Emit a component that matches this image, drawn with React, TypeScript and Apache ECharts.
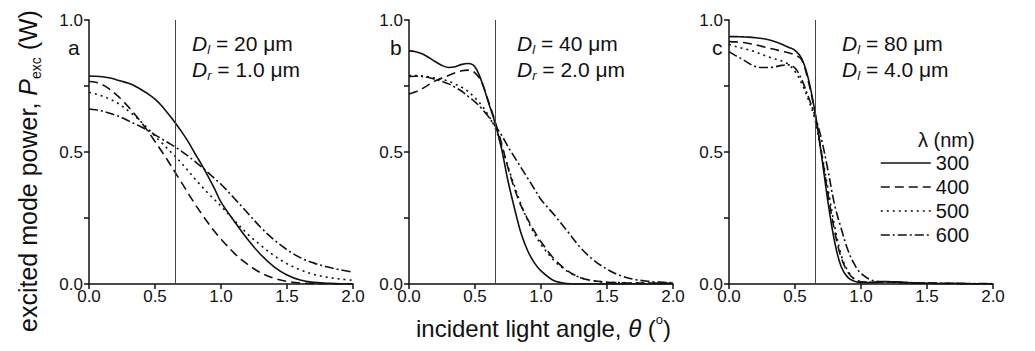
import React, { useEffect, useRef } from "react";
import * as echarts from "echarts";

// incident light angle (deg)
const angles = [
  0, 0.05, 0.1, 0.15, 0.2, 0.25, 0.3, 0.35, 0.4, 0.45, 0.5, 0.55, 0.6, 0.65, 0.7, 0.75, 0.8, 0.85, 0.9, 0.95, 1.0,
  1.1, 1.2, 1.3, 1.4, 1.5, 1.6, 1.7, 1.8, 1.9, 2.0,
];

// panel a: D_l = 20 um, D_r = 1.0 um
const a300 = [0.788, 0.787, 0.785, 0.781, 0.775, 0.768, 0.76, 0.749, 0.735, 0.719, 0.7, 0.675, 0.645, 0.613, 0.578, 0.54, 0.497, 0.455, 0.41, 0.362, 0.31, 0.238, 0.17, 0.112, 0.066, 0.034, 0.015, 0.006, 0.003, 0.001, 0.001];
const a400 = [0.767, 0.764, 0.755, 0.74, 0.72, 0.697, 0.67, 0.641, 0.61, 0.576, 0.54, 0.503, 0.465, 0.425, 0.385, 0.345, 0.305, 0.268, 0.233, 0.2, 0.17, 0.117, 0.075, 0.043, 0.022, 0.01, 0.004, 0.002, 0.001, 0, 0];
const a500 = [0.726, 0.72, 0.712, 0.702, 0.69, 0.674, 0.655, 0.635, 0.612, 0.587, 0.56, 0.535, 0.51, 0.485, 0.458, 0.43, 0.4, 0.372, 0.345, 0.32, 0.295, 0.242, 0.19, 0.147, 0.108, 0.077, 0.054, 0.037, 0.026, 0.019, 0.014];
const a600 = [0.663, 0.66, 0.655, 0.648, 0.64, 0.63, 0.618, 0.606, 0.594, 0.58, 0.565, 0.55, 0.535, 0.52, 0.503, 0.485, 0.465, 0.445, 0.423, 0.4, 0.378, 0.325, 0.27, 0.215, 0.168, 0.13, 0.1, 0.08, 0.065, 0.054, 0.045];

// panel b: D_l = 40 um, D_r = 2.0 um
const b300 = [0.883, 0.88, 0.872, 0.858, 0.842, 0.828, 0.82, 0.823, 0.832, 0.835, 0.822, 0.768, 0.69, 0.613, 0.515, 0.39, 0.285, 0.19, 0.125, 0.08, 0.05, 0.012, 0.002, 0, 0, 0, 0, 0, 0, 0, 0];
const b400 = [0.72, 0.728, 0.74, 0.755, 0.77, 0.78, 0.79, 0.8, 0.808, 0.81, 0.8, 0.765, 0.695, 0.62, 0.535, 0.44, 0.36, 0.295, 0.245, 0.2, 0.16, 0.095, 0.05, 0.024, 0.012, 0.007, 0.005, 0.004, 0.004, 0.003, 0.003];
const b500 = [0.79, 0.79, 0.788, 0.785, 0.78, 0.775, 0.768, 0.757, 0.745, 0.728, 0.705, 0.677, 0.64, 0.595, 0.525, 0.445, 0.37, 0.3, 0.24, 0.19, 0.15, 0.088, 0.048, 0.024, 0.012, 0.007, 0.005, 0.004, 0.004, 0.003, 0.003];
const b600 = [0.786, 0.787, 0.786, 0.782, 0.775, 0.768, 0.758, 0.745, 0.73, 0.71, 0.69, 0.665, 0.635, 0.6, 0.565, 0.52, 0.48, 0.44, 0.4, 0.36, 0.32, 0.262, 0.2, 0.137, 0.09, 0.056, 0.032, 0.018, 0.011, 0.007, 0.005];

// panel c: D_l = 80 um, D_l = 4.0 um
const c300 = [0.937, 0.937, 0.936, 0.935, 0.933, 0.93, 0.925, 0.918, 0.908, 0.897, 0.885, 0.855, 0.78, 0.655, 0.49, 0.31, 0.16, 0.065, 0.025, 0.01, 0.005, 0.006, 0.009, 0.006, 0.004, 0.003, 0.002, 0.002, 0.001, 0.001, 0.001];
const c400 = [0.918, 0.917, 0.915, 0.911, 0.906, 0.9, 0.894, 0.888, 0.882, 0.876, 0.868, 0.85, 0.77, 0.653, 0.5, 0.34, 0.2, 0.1, 0.045, 0.018, 0.008, 0.006, 0.008, 0.006, 0.004, 0.003, 0.002, 0.002, 0.001, 0.001, 0.001];
const c500 = [0.908, 0.9, 0.893, 0.887, 0.879, 0.869, 0.86, 0.852, 0.845, 0.832, 0.805, 0.76, 0.7, 0.625, 0.5, 0.36, 0.22, 0.11, 0.05, 0.02, 0.009, 0.006, 0.007, 0.005, 0.004, 0.003, 0.002, 0.002, 0.001, 0.001, 0.001];
const c600 = [0.88, 0.865, 0.852, 0.836, 0.824, 0.82, 0.82, 0.823, 0.828, 0.83, 0.818, 0.775, 0.71, 0.64, 0.55, 0.43, 0.3, 0.21, 0.13, 0.075, 0.04, 0.012, 0.009, 0.007, 0.005, 0.004, 0.003, 0.003, 0.002, 0.002, 0.001];

const wavelengths = ["300", "400", "500", "600"];
const cutoffAngle = 0.65;
const xTicks = [0, 0.5, 1.0, 1.5, 2.0];
const yLabelled = [0, 0.5, 1.0];

const panelValues = [
  [a300, a400, a500, a600],
  [b300, b400, b500, b600],
  [c300, c400, c500, c600],
];
const panelLetters = ["a", "b", "c"];
const panelDiam = [
  ["D", "l", " = 20 μm", "D", "r", " = 1.0 μm"],
  ["D", "l", " = 40 μm", "D", "r", " = 2.0 μm"],
  ["D", "l", " = 80 μm", "D", "l", " = 4.0 μm"],
];

const FONT = "'Liberation Sans', Arial, Helvetica, sans-serif";
const INK = "#111";
const gridLefts = [89, 409, 729];
const dashTypes: any[] = ["solid", [9, 5], [2, 4], [9, 3, 2, 3]];

export default function App() {
  const ref = useRef<HTMLDivElement>(null);
  useEffect(() => {
    if (!ref.current) return;
    const chart = echarts.init(ref.current, null, { renderer: "svg" });

    const grids = gridLefts.map((l) => ({ left: l, top: 20, width: 264, height: 264 }));
    const xAxes = gridLefts.map((_, i) => ({
      type: "value",
      gridIndex: i,
      min: xTicks[0],
      max: xTicks[xTicks.length - 1],
      interval: 0.5,
      axisLine: { show: true, onZero: false, lineStyle: { color: INK, width: 1.5 } },
      axisTick: { show: true, inside: false, length: 5, lineStyle: { color: INK, width: 1.5 } },
      splitLine: { show: false },
      axisLabel: {
        show: true,
        showMinLabel: true,
        showMaxLabel: true,
        margin: 4,
        fontSize: 17,
        color: INK,
        fontFamily: FONT,
        formatter: (v: number) => v.toFixed(1),
      },
    }));
    const yAxes = gridLefts.map((_, i) => ({
      type: "value",
      gridIndex: i,
      min: 0,
      max: 1,
      interval: 0.25,
      axisLine: { show: true, onZero: false, lineStyle: { color: INK, width: 1.5 } },
      axisTick: { show: true, inside: false, length: 5, lineStyle: { color: INK, width: 1.5 } },
      splitLine: { show: false },
      axisLabel: {
        show: true,
        showMinLabel: true,
        showMaxLabel: true,
        margin: 6,
        fontSize: 17,
        color: INK,
        fontFamily: FONT,
        formatter: (v: number) =>
          yLabelled.some((t) => Math.abs(t - v) < 1e-6) ? v.toFixed(1) : "",
      },
    }));

    const series: any[] = [];
    panelValues.forEach((vals, i) => {
      vals.forEach((ys, j) => {
        const s: any = {
          type: "line",
          name: wavelengths[j],
          xAxisIndex: i,
          yAxisIndex: i,
          data: angles.map((x, k) => [x, ys[k]]),
          symbol: "none",
          showSymbol: false,
          smooth: 0.35,
          silent: true,
          lineStyle: { color: INK, width: 1.6, type: dashTypes[j] },
          itemStyle: { color: INK },
          z: 3,
        };
        if (j === 0) {
          s.markLine = {
            silent: true,
            symbol: "none",
            label: { show: false },
            lineStyle: { color: "#444", width: 1, type: "solid" },
            data: [{ xAxis: cutoffAngle }],
          };
        }
        series.push(s);
      });
    });

    const richDiam = {
      i: { fontSize: 21, fontStyle: "italic", fontFamily: FONT, fill: INK, lineHeight: 26 },
      s: { fontSize: 13, fontStyle: "italic", fontFamily: FONT, fill: INK, lineHeight: 13, verticalAlign: "bottom" },
      n: { fontSize: 21, fontFamily: FONT, fill: INK, lineHeight: 26 },
    };
    const annotX = [192, 517, 842];

    const graphics: any[] = [
      {
        type: "text",
        x: 28,
        y: 171,
        rotation: Math.PI / 2,
        silent: true,
        style: {
          text: "{n|excited mode power, }{i|P}{s|exc}{n| (W)}",
          align: "center",
          verticalAlign: "middle",
          rich: {
            n: { fontSize: 25, fontFamily: FONT, fill: INK, lineHeight: 30 },
            i: { fontSize: 25, fontStyle: "italic", fontFamily: FONT, fill: INK, lineHeight: 30 },
            s: { fontSize: 14, fontFamily: FONT, fill: INK, lineHeight: 14, verticalAlign: "bottom" },
          },
        },
      },
      {
        type: "text",
        x: 416,
        y: 328,
        silent: true,
        style: {
          text: "{n|incident light angle, }{i|θ}{n| (}{o|o}{n|)}",
          align: "left",
          verticalAlign: "middle",
          rich: {
            n: { fontSize: 24, fontFamily: FONT, fill: INK, lineHeight: 30 },
            i: { fontSize: 24, fontStyle: "italic", fontFamily: FONT, fill: INK, lineHeight: 30 },
            o: { fontSize: 13, fontFamily: FONT, fill: INK, lineHeight: 13, verticalAlign: "top" },
          },
        },
      },
      {
        type: "text",
        x: 918,
        y: 140,
        silent: true,
        style: {
          text: "λ (nm)",
          font: `20px ${FONT}`,
          fill: INK,
          align: "left",
          verticalAlign: "middle",
        },
      },
    ];
    const letterX = [68, 390, 712];
    panelLetters.forEach((L, i) => {
      graphics.push({
        type: "text",
        x: letterX[i],
        y: 47,
        silent: true,
        style: { text: L, font: `21px ${FONT}`, fill: INK, align: "left", verticalAlign: "middle" },
      });
      const d = panelDiam[i];
      graphics.push({
        type: "text",
        x: annotX[i],
        y: 43,
        silent: true,
        style: {
          text: `{i|${d[0]}}{s|${d[1]}}{n|${d[2]}}`,
          rich: richDiam,
          align: "left",
          verticalAlign: "middle",
        },
      });
      graphics.push({
        type: "text",
        x: annotX[i],
        y: 69,
        silent: true,
        style: {
          text: `{i|${d[3]}}{s|${d[4]}}{n|${d[5]}}`,
          rich: richDiam,
          align: "left",
          verticalAlign: "middle",
        },
      });
    });

    chart.setOption({
      animation: false,
      backgroundColor: "#fff",
      textStyle: { fontFamily: FONT },
      grid: grids,
      xAxis: xAxes,
      yAxis: yAxes,
      legend: {
        data: wavelengths,
        orient: "vertical",
        left: 880,
        top: 153,
        padding: 0,
        itemWidth: 50,
        itemHeight: 14,
        itemGap: 4,
        selectedMode: false,
        itemStyle: { opacity: 0 },
        lineStyle: { color: INK, width: 1.6 },
        textStyle: { fontSize: 20, color: INK, fontFamily: FONT, lineHeight: 20 },
      },
      series,
      graphic: graphics,
    });

    return () => chart.dispose();
  }, []);

  return (
    <div
      ref={ref}
      style={{ position: "absolute", left: 0, top: 0, width: 1035, height: 351, background: "#fff" }}
    />
  );
}
